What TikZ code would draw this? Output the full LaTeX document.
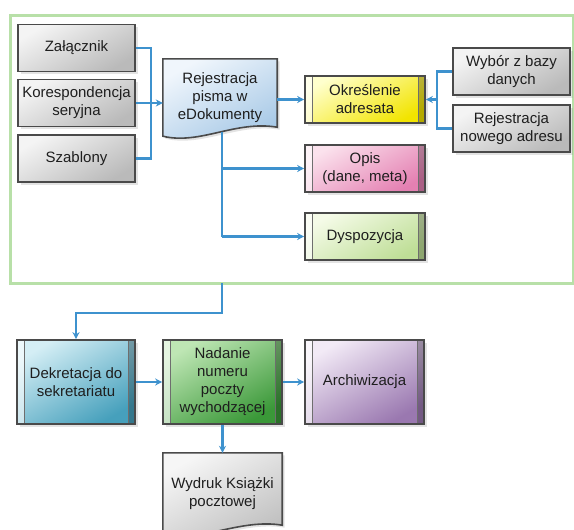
\documentclass[tikz,border=0pt]{standalone}
\usepackage{fontspec}
\setmainfont{Liberation Sans}
\usetikzlibrary{shadows,arrows.meta}
\definecolor{conncol}{RGB}{62,146,206}
\definecolor{boxline}{RGB}{74,74,74}
\definecolor{txt}{RGB}{30,30,30}
\definecolor{framecol}{RGB}{184,224,168}
\definecolor{grayA}{RGB}{244,244,244}\definecolor{grayB}{RGB}{186,186,186}
\definecolor{rejA}{RGB}{240,246,252}\definecolor{rejB}{RGB}{166,200,230}
\definecolor{okrA}{RGB}{255,255,205}\definecolor{okrB}{RGB}{242,228,0}
\definecolor{opisA}{RGB}{251,226,237}\definecolor{opisB}{RGB}{228,128,178}
\definecolor{dysA}{RGB}{245,251,232}\definecolor{dysB}{RGB}{190,222,150}
\definecolor{dekA}{RGB}{212,238,245}\definecolor{dekB}{RGB}{70,160,188}
\definecolor{nadA}{RGB}{190,230,180}\definecolor{nadB}{RGB}{58,152,56}
\definecolor{archA}{RGB}{242,234,246}\definecolor{archB}{RGB}{154,120,176}
\definecolor{wydA}{RGB}{246,246,246}\definecolor{wydB}{RGB}{192,192,192}
\begin{document}
\begin{tikzpicture}[x=1pt,y=-1pt,
  box/.style={draw=boxline, line width=1.6pt, minimum width=117pt, minimum height=47pt,
    inner sep=1pt, align=center, font=\fontsize{15}{18}\selectfont, text=txt,
    drop shadow={opacity=0.22, shadow xshift=2.5pt, shadow yshift=-2.5pt}},
  shadefill/.style 2 args={top color=#1, bottom color=#2, shading angle=30},
  graybox/.style={box, shadefill={grayA}{grayB}},
  sidebars/.style={path picture={
     \fill[white,opacity=0.6] (path picture bounding box.south west) rectangle ([xshift=7pt]path picture bounding box.north west);
     \fill[black,opacity=0.25] ([xshift=-7pt]path picture bounding box.south east) rectangle (path picture bounding box.north east);
     \draw[boxline!80,line width=0.9pt] ([xshift=7pt]path picture bounding box.south west) -- ([xshift=7pt]path picture bounding box.north west);
     \draw[boxline!80,line width=0.9pt] ([xshift=-7pt]path picture bounding box.south east) -- ([xshift=-7pt]path picture bounding box.north east);
  }},
  pbox/.style 2 args={box, shadefill={#1}{#2}, sidebars},
  docnode/.style={minimum width=114pt, inner sep=1pt, align=center,
    font=\fontsize{15}{18}\selectfont, text=txt},
  docshape/.style 2 args={draw=boxline, line width=1.6pt, shadefill={#1}{#2},
    drop shadow={opacity=0.22, shadow xshift=2.5pt, shadow yshift=-2.5pt}},
  conline/.style={draw=conncol, line width=2.2pt},
  conarrow/.style={conline, -{Stealth[length=7pt,width=7pt]}}
]
\useasboundingbox (0,0) rectangle (574,530);
\fill[white] (0,0) rectangle (574,530);

% frame
\draw[framecol, line width=3pt] (10,15) rectangle (573,283);
\coordinate (fb) at (222,283);

% left gray boxes
\node[graybox] (zal) at (76.5,48) {Załącznik};
\node[graybox] (kor) at (76.5,103) {Korespondencja\\seryjna};
\node[graybox] (sza) at (76.5,158.5) {Szablony};

% document: Rejestracja
\node[docnode, minimum height=77pt] (rej) at (220,97.5) {};
\path[docshape={rejA}{rejB}]
  (rej.north west) -- (rej.north east) -- ([yshift=9pt]rej.south east)
  .. controls ([xshift=-42pt,yshift=16pt]rej.south east) and ([xshift=37pt,yshift=-9pt]rej.south west) ..
  (rej.south west) -- cycle;
\node[docnode] at (rej.center) {Rejestracja\\pisma w\\eDokumenty};

% middle column
\node[pbox={okrA}{okrB}, minimum width=120pt] (okr) at (365,99.5) {Określenie\\adresata};
\node[pbox={opisA}{opisB}, minimum width=120pt] (opis) at (365,168.5) {Opis\\(dane, meta)};
\node[pbox={dysA}{dysB}, minimum width=120pt] (dys) at (365,236.5) {Dyspozycja};

% right gray boxes
\node[graybox] (wyb) at (511.5,71.5) {Wybór z bazy\\danych};
\node[graybox] (rejn) at (511.5,128.5) {Rejestracja\\nowego adresu};

% bottom row
\node[pbox={dekA}{dekB}, minimum width=118pt, minimum height=84pt] (dek) at (76,382) {Dekretacja do\\sekretariatu};
\node[pbox={nadA}{nadB}, minimum width=119pt, minimum height=84pt] (nad) at (222.5,382) {Nadanie\\numeru\\poczty\\wychodzącej};
\node[pbox={archA}{archB}, minimum width=119pt, minimum height=84pt] (arch) at (364.5,382) {Archiwizacja};

% document: Wydruk
\node[docnode, minimum width=119pt, minimum height=81pt] (wyd) at (222.5,493.5) {};
\path[docshape={wydA}{wydB}]
  (wyd.north west) -- (wyd.north east) -- ([yshift=9pt]wyd.south east)
  .. controls ([xshift=-42pt,yshift=16pt]wyd.south east) and ([xshift=37pt,yshift=-9pt]wyd.south west) ..
  (wyd.south west) -- cycle;
\node[docnode] at (wyd.center) {Wydruk Książki\\pocztowej};

% connectors
\draw[conline] (zal.east) -| ([xshift=15pt]kor.east);
\draw[conline] (sza.east) -| ([xshift=15pt]kor.east);
\draw[conarrow] (kor.east) -- (kor.east -| rej.west);
\draw[conarrow] (rej.east |- okr.west) -- (okr.west);
\coordinate (rb) at ([xshift=2pt,yshift=4pt]rej.south);
\draw[conline] (rb) -- (rb |- dys.west);
\draw[conarrow] (rb |- opis.west) -- (opis.west);
\draw[conarrow] (rb |- dys.west) -- (dys.west);
\draw[conline] (wyb.west) -| ([xshift=-15pt]rejn.west) -- (rejn.west);
\draw[conarrow] ([xshift=-15pt]wyb.west |- okr.east) -- (okr.east);
\draw[conarrow] (fb) -- ++(0,30) -| (dek.north);
\draw[conarrow] (dek.east) -- (nad.west);
\draw[conarrow] (nad.east) -- (arch.west);
\draw[conarrow] (nad.south) -- (wyd.north);
\end{tikzpicture}
\end{document}
